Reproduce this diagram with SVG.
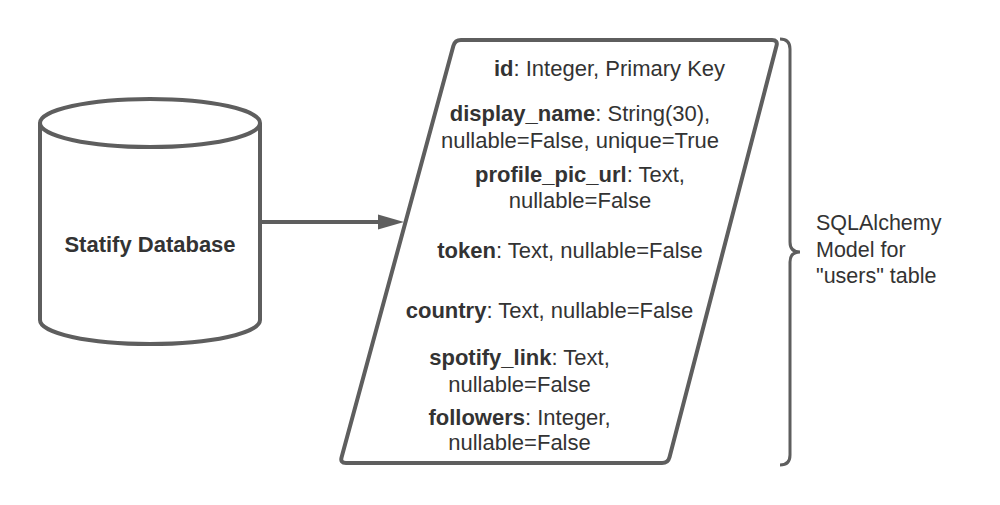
<svg xmlns="http://www.w3.org/2000/svg" width="1000" height="505" viewBox="0 0 1000 505">
<style>
.shape{fill:#ffffff;stroke:#5e5e5e;stroke-width:4;stroke-linejoin:round}
.t{font-family:"Liberation Sans",Arial,sans-serif;font-size:22px;fill:#333333;text-anchor:middle}
.b{font-weight:bold}
.lbl{font-family:"Liberation Sans",Arial,sans-serif;font-size:21.5px;fill:#333333}
</style>
<rect width="1000" height="505" fill="#ffffff"/>
<g id="db">
<path class="shape" d="M40,123 L40,320 A110,24 0 0 0 260,320 L260,123 A110,24 0 0 0 40,123 Z"/>
<path class="shape" fill="none" d="M40,123 A110,24 0 0 0 260,123"/>
<text class="t b" x="150" y="252">Statify Database</text>
</g>
<g id="connectors">
<line x1="260" y1="222" x2="382" y2="222" stroke="#5e5e5e" stroke-width="4"/>
<polygon points="404,222 378,214.5 378,229.5" fill="#5e5e5e"/>
</g>
<g id="model">
<path class="shape" d="M453.4,45.8 Q455,40 461,40 L772,40 Q778,40 776.5,45.8 L669.5,457.2 Q668,463 662,463 L346,463 Q340,463 341.6,457.2 Z"/>
<text class="t" x="609.5" y="76"><tspan class="b">id</tspan>: Integer, Primary Key</text>
<text class="t" x="580" y="121"><tspan class="b">display_name</tspan>: String(30),</text>
<text class="t" x="580" y="148">nullable=False, unique=True</text>
<text class="t" x="580" y="182"><tspan class="b">profile_pic_url</tspan>: Text,</text>
<text class="t" x="580" y="208">nullable=False</text>
<text class="t" x="570" y="258"><tspan class="b">token</tspan>: Text, nullable=False</text>
<text class="t" x="549.5" y="318"><tspan class="b">country</tspan>: Text, nullable=False</text>
<text class="t" x="519.5" y="365"><tspan class="b">spotify_link</tspan>: Text,</text>
<text class="t" x="519.5" y="392">nullable=False</text>
<text class="t" x="519.5" y="425"><tspan class="b">followers</tspan>: Integer,</text>
<text class="t" x="519.5" y="450">nullable=False</text>
</g>
<g id="brace">
<path d="M780,39 Q790,39 790,49 L790,242 Q790,252 800,252 Q790,252 790,262 L790,455 Q790,465 780,465" fill="none" stroke="#5e5e5e" stroke-width="3"/>
<text class="lbl" x="816" y="230">SQLAlchemy</text>
<text class="lbl" x="816" y="257">Model for</text>
<text class="lbl" x="816" y="283">"users" table</text>
</g>
</svg>
